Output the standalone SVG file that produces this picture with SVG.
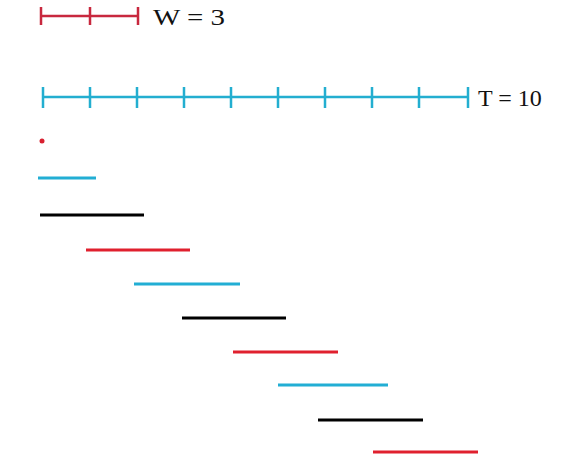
<svg xmlns="http://www.w3.org/2000/svg" width="578" height="461" viewBox="0 0 578 461">
<style>
.w{stroke:#c8283e;stroke-width:2.5;fill:none}
.t{stroke:#23aed0;stroke-width:2.5;fill:none}
.seg{stroke-width:3;fill:none}
.c{stroke:#22aed4}
.k{stroke:#000}
.r{stroke:#e0202e}
text{font-family:"Liberation Serif","Times New Roman",serif;font-size:24px;fill:#111}
</style>
<rect width="578" height="461" fill="#fff"/>
<g id="w-scale">
<path class="w" d="M41,16H138M41,7V25M90,7V25M138,7V25"/>
<text x="153" y="25" textLength="72" lengthAdjust="spacingAndGlyphs">W = 3</text>
</g>
<g id="t-scale">
<path class="t" d="M43,97H468M43,87V108M90,87V108M137,87V108M184,87V108M231,87V108M278,87V108M325,87V108M372,87V108M419,87V108M468,87V108"/>
<text x="478" y="106">T = 10</text>
</g>
<g id="segments">
<circle cx="42" cy="141" r="2.5" fill="#d82030"/>
<path class="seg c" d="M38,178H96"/>
<path class="seg k" d="M40,215H144"/>
<path class="seg r" d="M86,250H190"/>
<path class="seg c" d="M134,284H240"/>
<path class="seg k" d="M182,318H286"/>
<path class="seg r" d="M233,352H338"/>
<path class="seg c" d="M278,385H388"/>
<path class="seg k" d="M318,420H423"/>
<path class="seg r" d="M373,452H478"/>
</g>
</svg>
